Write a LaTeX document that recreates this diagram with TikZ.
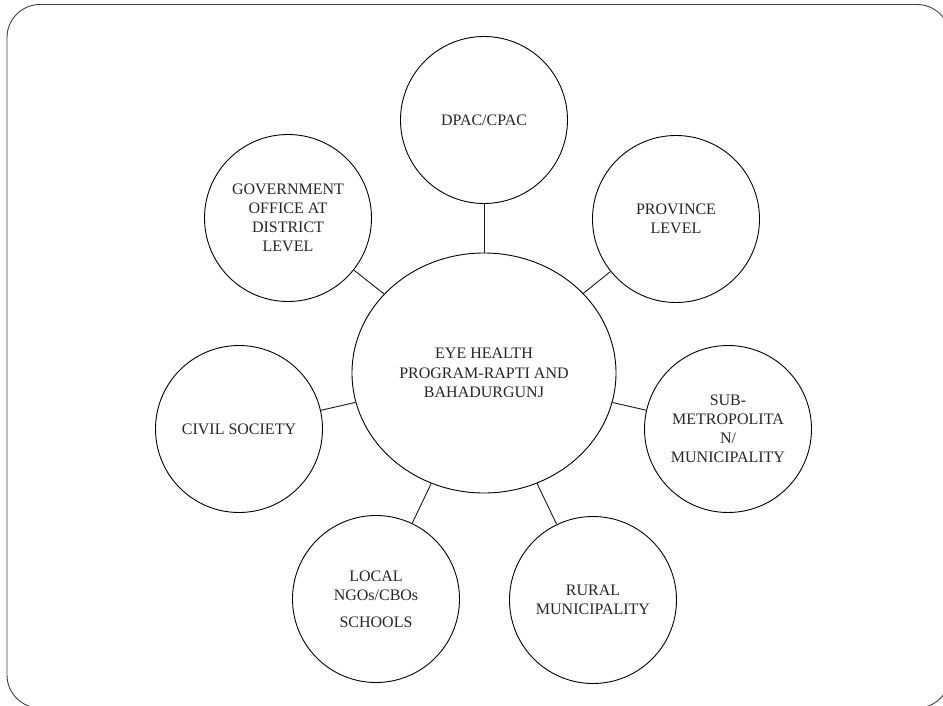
\documentclass[tikz,border=0pt]{standalone}
\usepackage{fontspec}
\setmainfont{Liberation Serif}
\usetikzlibrary{shapes.geometric}
\begin{document}
\begin{tikzpicture}[x=1pt,y=-1pt,
  bubble/.style={draw=black, line width=0.9pt, circle, minimum size=167pt, inner sep=0pt,
    align=center, font=\fontsize{16}{19}\selectfont, text=black!85},
  hub/.style={draw=black, line width=0.9pt, ellipse, minimum width=264pt, minimum height=240pt,
    inner sep=0pt, align=center, font=\fontsize{16}{19.5}\selectfont, text=black!85},
  link/.style={draw=black!90, line width=0.9pt}]
\useasboundingbox (0,0) rectangle (943,706);
\draw[black!75, line width=0.9pt, rounded corners=33pt] (7,4.5) rectangle (950,708);
\node[hub] (c) at (484,373) {EYE HEALTH\\PROGRAM-RAPTI AND\\BAHADURGUNJ};
\node[bubble] (d) at (484,120) {DPAC/CPAC};
\node[bubble] (g) at (288,218) {GOVERNMENT\\OFFICE AT\\DISTRICT\\LEVEL};
\node[bubble] (p) at (676,219) {PROVINCE\\LEVEL};
\node[bubble] (cs) at (239,429) {CIVIL SOCIETY};
\node[bubble] (s) at (728,429) {SUB-\\METROPOLITA\\N/\\MUNICIPALITY};
\node[bubble] (l) at (376,599) {LOCAL\\NGOs/CBOs\\[8pt]SCHOOLS};
\node[bubble] (r) at (593,600) {RURAL\\MUNICIPALITY};
\draw[link] (c) -- (d);
\draw[link] (c) -- (g);
\draw[link] (c) -- (p);
\draw[link] (c) -- (cs);
\draw[link] (c) -- (s);
\draw[link] (c) -- (l);
\draw[link] (c) -- (r);
\end{tikzpicture}
\end{document}
